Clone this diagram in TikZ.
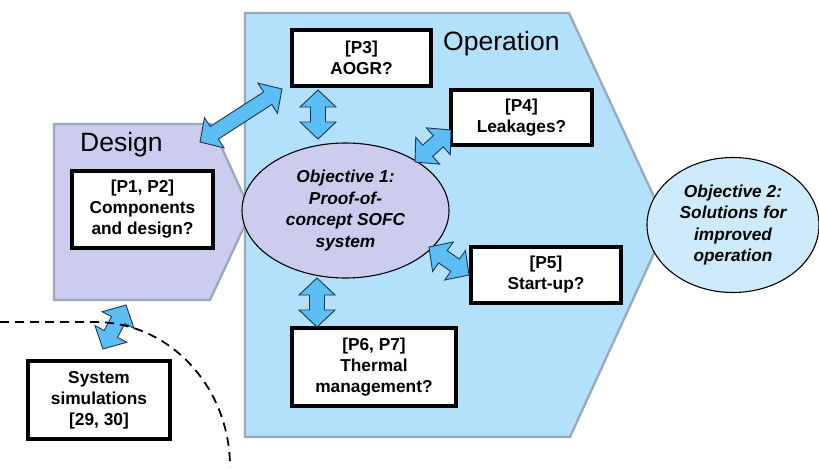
\documentclass[tikz,border=0pt]{standalone}
\usepackage{fontspec}
\setmainfont{Liberation Sans}
\usetikzlibrary{calc,shapes.geometric}
\definecolor{lav}{HTML}{CCCCEE}
\definecolor{opblue}{HTML}{B3E0FA}
\definecolor{obj2blue}{HTML}{CDEBFB}
\definecolor{arrblue}{HTML}{5BBEF5}
\definecolor{edgegray}{HTML}{97AABB}
\definecolor{arrline}{HTML}{1F3550}
\tikzset{
  chevron/.style={draw=edgegray, line width=2.3pt, line join=miter},
  qbox/.style={draw=black, line width=3.3pt, fill=white, align=center,
    font=\bfseries\fontsize{17.3}{21}\selectfont, inner sep=0pt},
  objell/.style={draw=black, line width=1.1pt, ellipse, align=center,
    font=\bfseries\itshape\fontsize{17.3}{21.5}\selectfont, inner sep=0pt},
  title/.style={font=\fontsize{26.5}{30}\selectfont, inner sep=0pt},
  blockarr/.style={draw=arrline, line width=0.9pt, fill=arrblue, line join=miter},
}
\newcommand{\dblarrow}[2]{%
  \draw[blockarr] (#1)
   -- ($(#1)!17pt!(#2)!18pt!90:(#2)$)
   -- ($(#1)!17pt!(#2)!7.5pt!90:(#2)$)
   -- ($(#2)!17pt!(#1)!7.5pt!-90:(#1)$)
   -- ($(#2)!17pt!(#1)!18pt!-90:(#1)$)
   -- (#2)
   -- ($(#2)!17pt!(#1)!18pt!90:(#1)$)
   -- ($(#2)!17pt!(#1)!7.5pt!90:(#1)$)
   -- ($(#1)!17pt!(#2)!7.5pt!-90:(#2)$)
   -- ($(#1)!17pt!(#2)!18pt!-90:(#2)$)
   -- cycle;}
\begin{document}
\begin{tikzpicture}[x=1pt,y=-1pt]
\useasboundingbox (0,0) rectangle (819,471);
\fill[white] (0,0) rectangle (819,471);

% Operation chevron
\filldraw[chevron, fill=opblue] (245,13) -- (569,13) -- (667,225) -- (570,437) -- (245,437) -- cycle;
% Design chevron
\filldraw[chevron, fill=lav] (54,124) -- (211,124) -- (251,212) -- (210,300) -- (54,300) -- cycle;

\node[title, anchor=west] (design) at (80,145) {Design};
\node[title, anchor=west] (operation) at (443,44) {Operation};

% Objective ellipses
\node[objell, fill=lav, minimum width=207pt, minimum height=135pt] (obj1) at (345.5,210.5)
  {Objective 1:\\Proof-of-\\concept SOFC\\system};
\node[objell, fill=obj2blue, minimum width=172pt, minimum height=135pt] (obj2) at (733,225)
  {Objective 2:\\Solutions for\\improved\\operation};

% Question boxes
\node[qbox, minimum width=139pt, minimum height=56pt] (p3) at (361.5,58) {[P3]\\AOGR?};
\node[qbox, minimum width=141pt, minimum height=55pt] (p4) at (521.5,117.5) {[P4]\\Leakages?};
\node[qbox, minimum width=150pt, minimum height=56pt] (p5) at (546,275) {[P5]\\Start-up?};
\node[qbox, minimum width=164pt, minimum height=78pt] (p67) at (374,367) {[P6, P7]\\Thermal\\management?};
\node[qbox, minimum width=141pt, minimum height=77pt] (p12) at (142.5,209.5) {[P1, P2]\\Components\\and design?};
\node[qbox, minimum width=142pt, minimum height=78pt] (sim) at (99,400) {System\\simulations\\{[29, 30]}};

% Arrow end points
\coordinate (dA) at (200,142);
\coordinate (dB) at (282,89);
\coordinate (p3A) at (318,90);
\coordinate (p3B) at (318,139);
\coordinate (p4A) at (451,130);
\coordinate (p4B) at (415,162);
\coordinate (p5A) at (469,275);
\coordinate (p5B) at (429,247);
\coordinate (p6A) at (317,327);
\coordinate (p6B) at (317,278);
\coordinate (sA) at (103,349);
\coordinate (sB) at (126,305);

\dblarrow{dA}{dB}
\dblarrow{p3A}{p3B}
\dblarrow{p4A}{p4B}
\dblarrow{p5A}{p5B}
\dblarrow{p6A}{p6B}
\dblarrow{sA}{sB}

% Dashed boundary
\coordinate (dashstart) at (0,322);
\draw[line width=1.8pt, dash pattern=on 9pt off 6pt] (dashstart) -- (95,322) arc (-90:0:135 and 145);
\end{tikzpicture}
\end{document}
